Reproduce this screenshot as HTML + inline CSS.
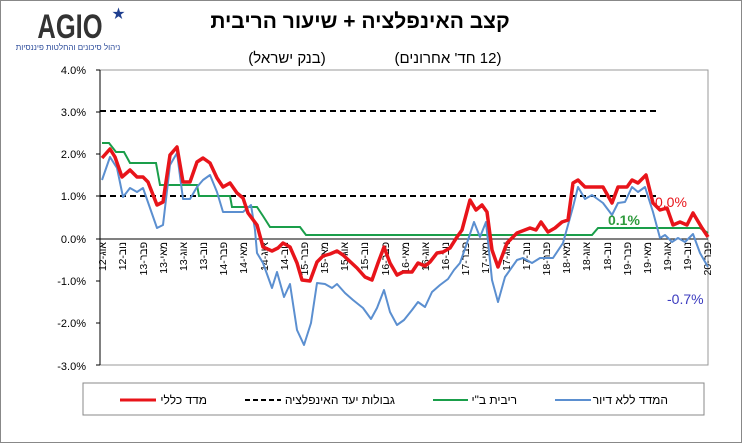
<!DOCTYPE html>
<html><head><meta charset="utf-8"><style>
body{margin:0;background:#fff;width:747px;height:444px;overflow:hidden}
svg{display:block;font-family:"Liberation Sans","Noto Sans CJK SC",sans-serif}
</style></head><body>
<svg width="747" height="444" viewBox="0 0 747 444">
<rect x="0.5" y="0.5" width="741" height="442" fill="#fff" stroke="#888" stroke-width="1"/>
<!-- logo -->
<text x="70" y="38" font-size="30" font-weight="bold" fill="#333" text-anchor="middle" transform="translate(70,0) scale(0.85,1.15) translate(-70,-5)">AGIO</text>
<text x="112" y="18" font-size="13" fill="#1f3f8f">★</text>
<text x="68" y="50" font-size="8" fill="#2a4a9a" text-anchor="middle" direction="rtl">ניהול סיכונים והחלטות פיננסיות</text>
<!-- titles -->
<text x="360" y="28" font-size="21" font-weight="bold" text-anchor="middle" direction="rtl">קצב האינפלציה + שיעור הריבית</text>
<text x="448" y="63" font-size="15" text-anchor="middle" direction="rtl">(12 חד' אחרונים)</text>
<text x="287" y="63" font-size="15" text-anchor="middle" direction="rtl">(בנק ישראל)</text>
<!-- plot -->
<rect x="100" y="70" width="608" height="295" fill="#fff" stroke="#999" stroke-width="1"/>
<g font-size="11" text-anchor="end" fill="#000">
<text x="86" y="74">4.0%</text><text x="86" y="116">3.0%</text><text x="86" y="158">2.0%</text><text x="86" y="200">1.0%</text><text x="86" y="243">0.0%</text><text x="86" y="285">-1.0%</text><text x="86" y="327">-2.0%</text><text x="86" y="370">-3.0%</text>
</g>
<g stroke="#000" stroke-width="1">
<line x1="100" y1="70" x2="100" y2="365"/>
<line x1="96" y1="70" x2="100" y2="70"/><line x1="96" y1="112" x2="100" y2="112"/><line x1="96" y1="154" x2="100" y2="154"/><line x1="96" y1="196" x2="100" y2="196"/><line x1="96" y1="239" x2="100" y2="239"/><line x1="96" y1="281" x2="100" y2="281"/><line x1="96" y1="323" x2="100" y2="323"/><line x1="96" y1="365" x2="100" y2="365"/>
<line x1="100" y1="239" x2="708" y2="239"/>
</g>
<g stroke="#000" stroke-width="2" stroke-dasharray="6,4">
<line x1="100" y1="111" x2="660" y2="111"/>
<line x1="100" y1="196" x2="660" y2="196"/>
</g>
<!-- x labels -->
<g font-size="10.5" fill="#000" text-anchor="end">
<text transform="translate(106,242) rotate(-90)">אוג-12</text>
<text transform="translate(126,242) rotate(-90)">נוב-12</text>
<text transform="translate(147,242) rotate(-90)">פבר-13</text>
<text transform="translate(167,242) rotate(-90)">מאי-13</text>
<text transform="translate(187,242) rotate(-90)">אוג-13</text>
<text transform="translate(207,242) rotate(-90)">נוב-13</text>
<text transform="translate(227,242) rotate(-90)">פבר-14</text>
<text transform="translate(247,242) rotate(-90)">מאי-14</text>
<text transform="translate(268,242) rotate(-90)">אוג-14</text>
<text transform="translate(288,242) rotate(-90)">נוב-14</text>
<text transform="translate(308,242) rotate(-90)">פבר-15</text>
<text transform="translate(328,242) rotate(-90)">מאי-15</text>
<text transform="translate(348,242) rotate(-90)">אוג-15</text>
<text transform="translate(368,242) rotate(-90)">נוב-15</text>
<text transform="translate(389,242) rotate(-90)">פבר-16</text>
<text transform="translate(409,242) rotate(-90)">מאי-16</text>
<text transform="translate(429,242) rotate(-90)">אוג-16</text>
<text transform="translate(449,242) rotate(-90)">נוב-16</text>
<text transform="translate(469,242) rotate(-90)">פבר-17</text>
<text transform="translate(489,242) rotate(-90)">מאי-17</text>
<text transform="translate(510,242) rotate(-90)">אוג-17</text>
<text transform="translate(530,242) rotate(-90)">נוב-17</text>
<text transform="translate(550,242) rotate(-90)">פבר-18</text>
<text transform="translate(570,242) rotate(-90)">מאי-18</text>
<text transform="translate(590,242) rotate(-90)">אוג-18</text>
<text transform="translate(611,242) rotate(-90)">נוב-18</text>
<text transform="translate(631,242) rotate(-90)">פבר-19</text>
<text transform="translate(651,242) rotate(-90)">מאי-19</text>
<text transform="translate(671,242) rotate(-90)">אוג-19</text>
<text transform="translate(691,242) rotate(-90)">נוב-19</text>
<text transform="translate(711,242) rotate(-90)">פבר-20</text>
</g>
<!-- green -->
<polyline fill="none" stroke="#1a9e4a" stroke-width="2" points="102,143 109,143 116,152 124,152 130,163 156,163 160,185 163,185 197,185 199,196 230,196 232,207 257,207 263,216 270,227 300,227 306,235 592,235 598,228 700,228 708,233"/>
<!-- blue -->
<polyline fill="none" stroke="#5b8fd0" stroke-width="2" stroke-linejoin="round" points="102,180 110,157 117,168 123,197 130,188 137,192 143,188 157,228 163,225 170,165 177,153 183,199 190,199 197,187 203,180 210,175 217,192 223,212 243,212 251,205 255,230 257,253 263,263 272,288 277,272 284,297 290,284 297,330 304,345 311,323 317,283 325,284 332,288 337,284 345,293 353,300 363,308 371,319 377,308 384,290 390,312 397,325 404,320 412,310 418,302 425,307 432,292 440,285 448,279 454,270 460,263 467,243 474,222 480,237 486,222 492,280 498,302 505,277 517,260 523,258 532,263 540,258 553,258 563,243 568,225 573,207 578,187 585,199 592,195 603,203 612,215 618,203 625,202 632,187 638,192 645,187 653,212 660,238 665,235 672,242 678,238 685,242 693,234 700,253 708,267"/>
<!-- red -->
<polyline fill="none" stroke="#e8141a" stroke-width="3.5" stroke-linejoin="round" points="102,158 110,149 115,157 122,177 130,170 137,177 143,177 148,182 157,205 163,202 170,155 177,147 183,182 190,182 197,162 203,158 210,163 217,178 223,187 230,183 237,193 243,198 248,213 257,225 263,247 272,251 278,248 283,243 290,247 297,263 302,280 310,281 317,262 323,256 330,254 337,251 343,255 357,268 365,277 372,280 378,263 384,247 390,263 397,275 403,272 412,272 418,263 425,266 430,262 437,253 443,252 450,248 457,237 462,230 470,200 476,210 482,205 487,212 492,250 498,267 507,243 517,233 530,228 536,230 541,222 548,232 555,228 562,222 568,220 573,183 578,180 585,187 603,187 612,203 618,187 627,187 632,180 638,183 646,175 653,203 660,210 667,208 673,225 680,222 687,225 693,213 702,228 708,237"/>
<!-- annotations -->
<text x="655" y="207" font-size="14" fill="#e8141a">0.0%</text>
<text x="608" y="225" font-size="14" font-weight="bold" fill="#2e9a3c">0.1%</text>
<text x="667" y="304" font-size="14" fill="#3b3bbf">-0.7%</text>
<!-- legend -->
<rect x="83" y="383" width="621" height="32" fill="#fff" stroke="#888"/>
<g font-size="12" text-anchor="end">
<line x1="120" y1="400" x2="156" y2="400" stroke="#e8141a" stroke-width="3"/>
<text x="207" y="404">מדד כללי</text>
<line x1="245" y1="400" x2="281" y2="400" stroke="#000" stroke-width="2" stroke-dasharray="5,3"/>
<text x="395" y="404">גבולות יעד האינפלציה</text>
<line x1="433" y1="400" x2="468" y2="400" stroke="#1a9e4a" stroke-width="2"/>
<text x="517" y="404">ריבית ב"י</text>
<line x1="555" y1="400" x2="591" y2="400" stroke="#5b8fd0" stroke-width="2"/>
<text x="668" y="404">המדד ללא דיור</text>
</g>
</svg>
</body></html>
